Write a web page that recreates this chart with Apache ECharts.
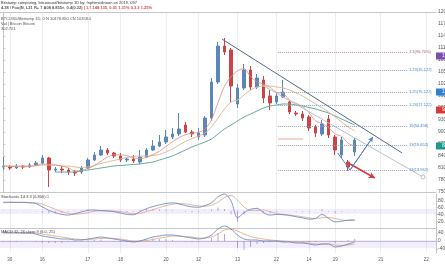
<!DOCTYPE html>
<html><head><meta charset="utf-8">
<script src="https://cdn.jsdelivr.net/npm/echarts@6/dist/echarts.min.js"></script>
<style>html,body{margin:0;padding:0;background:#fff}#c{width:445px;height:265px}</style>
</head><body><div id="c"></div>
<script>
const N = 67;
const tickIndex = [1,6,13,18,25,30,36,42,47,51,58,65];
const tickLabels = ['30','16','17','18','20','12','13','22','14','19','21','22'];
// [open, close, low, high]
const candles = [
[8125,8150,8050,8375],[8125,8100,8050,8175],[8100,8150,8075,8200],[8150,8125,8075,8175],
[8125,8175,8100,8225],[8175,8225,8150,8275],[8225,8350,8175,8425],[8350,8050,7625,8375],
[8050,8075,8000,8125],[8075,8050,7975,8150],[8050,8000,7925,8100],[8000,7975,7900,8050],
[8000,8100,7950,8150],[8100,8300,8075,8350],[8300,8425,8275,8500],[8425,8550,8400,8650],
[8550,8475,8425,8600],[8475,8400,8350,8500],[8400,8300,8250,8475],[8300,8325,8250,8375],
[8325,8275,8225,8425],[8250,8375,8200,8550],[8375,8550,8350,8600],[8550,8650,8525,8800],
[8650,8750,8625,8925],[8750,8875,8700,9050],[8875,8950,8825,9100],[8950,9075,8900,9475],
[9175,9000,8975,9250],[9000,8950,8875,9050],[8875,8975,8800,9100],[8925,9350,8875,9400],
[9350,10250,9275,10350],[10250,11150,10200,11250],[11150,11000,10925,11350],[11050,10150,9750,11100],
[9700,10100,9600,10200],[10100,10550,10050,10700],[10550,10125,10050,10650],[10125,10350,10075,10450],
[10300,9850,9725,10400],[9900,9725,9550,10050],[9750,9900,9700,9975],[9875,10000,9850,10300],
[9750,9500,9450,9800],[9475,9450,9400,9525],[9450,9350,9275,9525],[9375,9100,9025,9425],
[9125,8975,8875,9175],[8950,9200,8900,9300],[9325,8925,8850,9425],[8875,8550,8425,8925],
[8425,8800,8350,8875],[8250,8125,8025,8300],[8500,8800,8400,8850]
];
const maFast = [8150,8138,8138,8130,8140,8155,8205,8185,8175,8150,8105,8030,8040,8085,8160,8270,8370,8430,8430,8410,8355,8335,8365,8435,8520,8640,8755,8860,8930,8970,8990,9070,9305,9735,10145,10380,10530,10590,10385,10255,10195,10120,9990,9965,9795,9715,9640,9480,9275,9215,9110,8950,8890,8720,8645];
const maMid = [8150,8150,8150,8150,8150,8163,8175,8175,8175,8150,8150,8125,8113,8125,8163,8213,8250,8288,8325,8363,8388,8400,8400,8413,8438,8500,8575,8675,8763,8838,8900,8975,9125,9350,9575,9750,9800,9925,10050,10125,10150,10150,10125,10100,10050,9975,9900,9800,9700,9600,9500,9375,9250,9125,9025];
const maSlow = [null,null,null,null,null,null,null,null,8000,8000,8000,8000,8025,8050,8075,8100,8125,8150,8163,8175,8188,8200,8225,8250,8300,8350,8400,8475,8550,8625,8688,8750,8825,8950,9075,9175,9275,9375,9450,9525,9600,9650,9675,9700,9700,9675,9650,9613,9575,9525,9475,9400,9325,9250,9175];
const stochK = [76,76,75,75,74,72,62,52,45,40,38,42,47,52,53,51,50,48,44,40,39,48,57,63,68,72,74,71,66,62,61,66,74,92,100,80,30,45,55,58,45,38,40,39,37,33,30,26,28,40,28,18,20,23,24];
const stochD = [74,75,76,76,75,74,70,63,55,48,43,41,42,45,49,51,51,50,48,45,42,43,48,54,60,66,70,72,71,68,65,64,67,76,90,96,82,62,52,52,53,48,43,40,38,36,33,30,28,30,31,28,24,22,22];
const stochHist = [2,1,-1,-1,-1,-2,-8,-11,-10,-8,-5,1,5,7,4,0,-1,-2,-4,-5,-3,5,9,9,8,6,4,-1,-5,-6,-4,2,7,16,10,-16,-52,-17,3,6,-8,-10,-3,-1,-1,-3,-3,-4,0,10,-3,-10,-4,1,2];
const macdLine = [40,40,40,40,40,35,25,20,15,10,10,5,5,10,15,20,15,10,5,0,-5,0,10,20,25,30,30,25,20,15,10,15,30,60,75,60,30,10,5,5,0,0,0,-5,-5,-10,-10,-15,-20,-15,-15,-30,-25,-15,-5];
const macdSignal = [45,45,45,40,40,40,35,30,25,20,15,10,7.5,7.5,10,12.5,15,12.5,10,5,0,0,2.5,7.5,15,20,25,25,22.5,20,15,15,20,35,55,60,50,35,22.5,15,10,5,2.5,0,-2.5,-5,-7.5,-10,-15,-15,-15,-20,-22.5,-20,-15];
const macdHist = [-5,-5,-5,0,0,-5,-10,-10,-10,-10,-5,-5,-2.5,2.5,5,7.5,0,-2.5,-5,-5,-5,0,7.5,12.5,10,10,5,0,-2.5,-5,-5,0,15,40,35,0,-35,-45,-30,-15,-10,-5,-2.5,-5,-2.5,-5,-2.5,-5,-5,0,0,-10,-2.5,5,10];
const macdTicks = [-40, 0, 40];
const trendLine = [[33.6,11325],[61.3,8475]];
const channelLine = [[39.8,10175],[64.5,7875]];
const fibLevels = [11000,10550,10000,9675,9150,8675,8050];
const fibLabels = ['1.1(96.70%)','1.23(15.122)','1.25(75.122)','1.23(17.122)','15(50.456)','13(19.652)','13(13.962)'];
const fibRange = [42.2, 62.2];
const swingPath = [[51.4,8475],[53.3,8050],[56.8,8875]];
const bearArrow = [[53.3,8200],[57.1,7850]];
const noteLine = [[42.2,8825],[46.1,8825]];
const priceTags = [10900,10000,9550,8650];
const tagColors = ['#7d4fae','#2f7fd3','#d63a3a','#1b9a8c'];
const headerLine1 = 'Bitstamp comparing, bitcoinusd/bitstamp 1D by: Inpfsmiidinoon on 2019, 097';
const headerLine2a = '4.38 / Foo(N, L31 R+ 7 A08 8.855\u00d7, 0.4(0.32) ';
const headerLine2b = '| 1,7.148.135, 0.01 1.31% 0.3.3 1.25%';
const legendLines = ['BTCUSD/Bitstamp 1D, 0 N 10478.850 CN 10358.0','Vol | Bitcoin Bitcoin','302.701'];
const pane1Label = 'Stochastic 14 3 3 (6.800) \u25a1';
const pane2Label = 'MACD 12, 26 close 9 (6.0, 25)';

const BLUE = '#5a86b8', RED = '#c94444';
const categories = Array.from({length: N}, (_, i) => { const k = tickIndex.indexOf(i); return k >= 0 ? tickLabels[k] : ''; });
const isTick = (i) => tickIndex.indexOf(i) >= 0;
const vGrid = {show: true, interval: (i) => isTick(i), alignWithLabel: true, lineStyle: {color: '#eceef2', width: 1}};
const AX = '#c6c6c6';
const catAxis = (gridIndex, extra) => Object.assign({
  type: 'category', gridIndex, data: categories, boundaryGap: true,
  axisLine: {show: true, lineStyle: {color: AX, width: 1}}, axisTick: {show: false},
  axisLabel: {show: false}, splitLine: vGrid
}, extra || {});
const plain = (v) => String(v);
const rightAxis = (gridIndex, min, max, interval, extra) => Object.assign({
  type: 'value', gridIndex, position: 'right', min, max, interval,
  axisLine: {show: true, lineStyle: {color: AX}}, axisTick: {show: true, length: 2, lineStyle: {color: AX}},
  axisLabel: {fontSize: 5, color: '#555', margin: 2, formatter: plain}, splitLine: {show: false}
}, extra || {});
const txt = (text, top, color, size) => ({text, left: 1, top, padding: 0, textStyle: {fontSize: size || 4, color: color || '#555', fontWeight: 'normal'}});

const fibMarks = fibLevels.map((v, k) => [
  {coord: [fibRange[0], v], lineStyle: {color: k === 0 ? '#b7929f' : '#93a3b8', type: 'dotted', width: 1},
   label: {show: true, position: 'end', distance: 1, formatter: fibLabels[k], fontSize: 4, color: k === 0 ? '#a05a7a' : '#3f7fc4'}},
  {coord: [fibRange[1], v]}
]);

const option = {
  animation: false,
  textStyle: {fontFamily: 'Liberation Sans, Arial, sans-serif'},
  title: [
    txt(headerLine1, 1, '#333'),
    {text: '{a|' + headerLine2a + '}{b|' + headerLine2b + '}', left: 1, top: 6, padding: 0,
     textStyle: {rich: {a: {fontSize: 4, color: '#555'}, b: {fontSize: 4, color: '#d04a4a'}}}},
    txt(legendLines[0], 17), txt(legendLines[1], 22), txt(legendLines[2], 27),
    txt(pane1Label, 195, '#444'), txt(pane2Label, 230, '#444')
  ],
  grid: [
    {left: 0, right: 9, top: 12, height: 180, containLabel: false, outerBoundsMode: 'none'},
    {left: 0, right: 9, top: 194, height: 34, containLabel: false, outerBoundsMode: 'none'},
    {left: 0, right: 9, top: 229, height: 24, containLabel: false, outerBoundsMode: 'none'}
  ],
  xAxis: [
    catAxis(0),
    {type: 'value', gridIndex: 0, min: -0.5, max: 66.5, show: false, position: 'bottom'},
    catAxis(1),
    catAxis(2, {axisLabel: {show: true, interval: (i) => isTick(i), fontSize: 4.5, color: '#555', margin: 4}}),
    catAxis(0, {position: 'top', splitLine: {show: false}})
  ],
  yAxis: [
    rightAxis(0, 7500, 12000, 300),
    rightAxis(1, 0, 100, 20, {axisLabel: {fontSize: 5, color: '#555', margin: 2, showMinLabel: false, showMaxLabel: false, formatter: (v) => v.toFixed(1)}}),
    {type: 'value', gridIndex: 1, min: -80, max: 80, show: false, position: 'left'},
    rightAxis(2, -60, 60, 20, {
      axisTick: {show: true, length: 2, lineStyle: {color: AX}, customValues: macdTicks},
      axisLabel: {fontSize: 5, color: '#555', margin: 2, customValues: macdTicks, formatter: plain}})
  ],
  series: [
    {type: 'candlestick', xAxisIndex: 0, yAxisIndex: 0, data: candles, barWidth: 3,
     itemStyle: {color: BLUE, color0: RED, borderColor: BLUE, borderColor0: RED, borderWidth: 1}},
    {type: 'line', xAxisIndex: 0, yAxisIndex: 0, data: maSlow, showSymbol: false, smooth: 0.3, lineStyle: {color: '#63a89e', width: 1}},
    {type: 'line', xAxisIndex: 0, yAxisIndex: 0, data: maMid, showSymbol: false, smooth: 0.3, lineStyle: {color: '#dcbd94', width: 1}},
    {type: 'line', xAxisIndex: 0, yAxisIndex: 0, data: maFast, showSymbol: false, smooth: 0.3, lineStyle: {color: '#e48a7e', width: 0.8}},
    {type: 'line', xAxisIndex: 1, yAxisIndex: 0, data: trendLine, showSymbol: false, clip: false,
     lineStyle: {color: '#506a8c', width: 1}, z: 6,
     markLine: {silent: true, symbol: ['none', 'none'], label: {show: false}, animation: false,
       data: fibMarks.concat([
         [{coord: swingPath[1], symbol: 'none', lineStyle: {color: '#4f86c6', width: 1, type: 'solid'}, itemStyle: {color: '#4f86c6'}},
          {coord: swingPath[2], symbol: 'arrow', symbolSize: [4, 5]}],
         [{coord: bearArrow[0], symbol: 'none', lineStyle: {color: '#d23c3c', width: 1.6, type: 'solid'}, itemStyle: {color: '#d23c3c'}},
          {coord: bearArrow[1], symbol: 'arrow', symbolSize: [5, 6]}]
       ])},
     markPoint: {silent: true, symbol: 'rect', symbolSize: [20, 7], symbolOffset: [10, 0],
       label: {show: true, position: 'insideLeft', color: '#fff', fontSize: 5, offset: [1, 0], formatter: (p) => String(p.value)},
       data: priceTags.map((v, k) => ({coord: [66.5, v], value: v, itemStyle: {color: tagColors[k]}}))}},
    {type: 'line', xAxisIndex: 1, yAxisIndex: 0, symbol: 'none', showSymbol: true, clip: false,
     data: [channelLine[0], {value: channelLine[1], symbol: 'circle', symbolSize: 4, itemStyle: {color: '#fff', borderColor: '#a9b0bc', borderWidth: 0.8}}],
     lineStyle: {color: '#b9bfca', width: 1}},
    {type: 'line', xAxisIndex: 1, yAxisIndex: 0, data: swingPath, showSymbol: false, lineStyle: {color: '#4f86c6', width: 1}, z: 6},
    {type: 'line', xAxisIndex: 1, yAxisIndex: 0, data: noteLine, showSymbol: false, lineStyle: {color: '#e8a898', width: 1}},
    {type: 'bar', xAxisIndex: 2, yAxisIndex: 2, data: stochHist, barWidth: 1, itemStyle: {color: 'rgba(140,100,200,0.55)'}},
    {type: 'line', xAxisIndex: 2, yAxisIndex: 1, data: stochD, showSymbol: false, clip: false, smooth: 0.3, lineStyle: {color: '#e3a57c', width: 0.8}},
    {type: 'line', xAxisIndex: 2, yAxisIndex: 1, data: stochK, showSymbol: false, clip: false, smooth: 0.3, lineStyle: {color: '#5c80c4', width: 0.8},
     markArea: {silent: true, itemStyle: {color: 'rgba(160,120,230,0.13)'}, data: [[{yAxis: 41}, {yAxis: 56}]]}},
    {type: 'bar', xAxisIndex: 3, yAxisIndex: 3, data: macdHist, barWidth: 1, itemStyle: {color: 'rgba(140,100,200,0.6)'}},
    {type: 'line', xAxisIndex: 3, yAxisIndex: 3, data: macdSignal, showSymbol: false, clip: false, smooth: 0.3, lineStyle: {color: '#e3a57c', width: 0.8}},
    {type: 'line', xAxisIndex: 3, yAxisIndex: 3, data: macdLine, showSymbol: false, clip: false, smooth: 0.3, lineStyle: {color: '#5c80c4', width: 0.8},
     markArea: {silent: true, itemStyle: {color: 'rgba(160,120,230,0.13)'}, data: [[{yAxis: -35}, {yAxis: 5}]]}}
  ]
};
const chart = echarts.init(document.getElementById('c'));
chart.setOption(option);
</script></body></html>
